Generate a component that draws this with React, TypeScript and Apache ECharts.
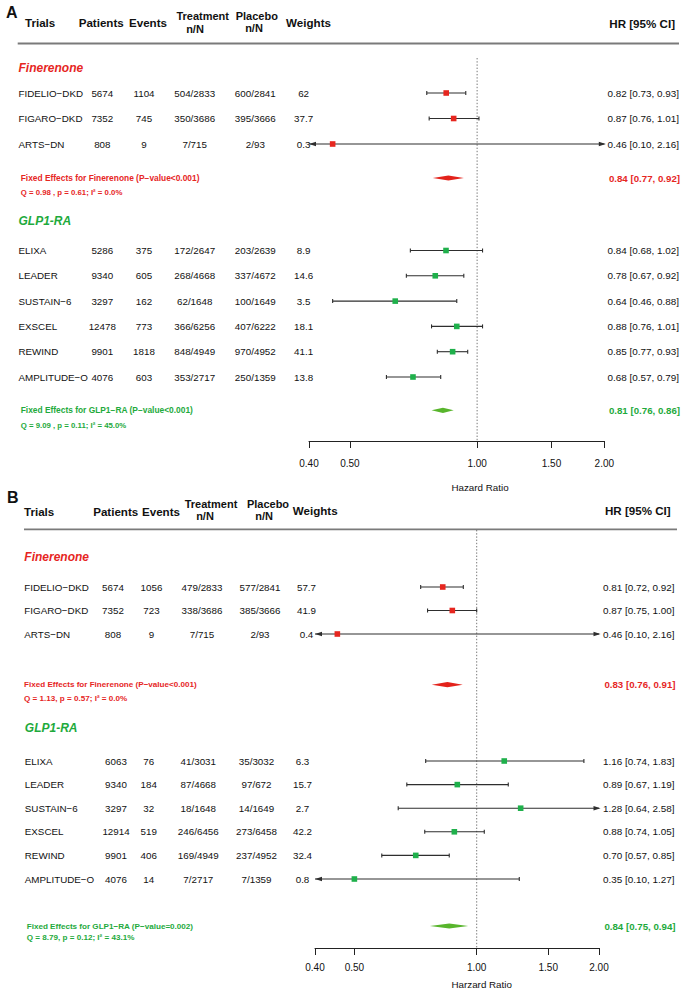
import React, { useEffect, useRef } from "react";
import * as echarts from "echarts";

const FONT = '"Liberation Sans", Arial, Helvetica, sans-serif';
const INK = "#111111";
const WHISKER = "#2e2e2e";
const RED = "#E6261F";
const RED_DIAMOND = "#E3221B";
const GREEN_TXT = "#1EAA3C";
const GREEN_BOX = "#1FB04B";
const GREEN_DIAMOND = "#58B52C";

// ---------- axis ----------
const AXIS_TICKS = [0.4, 0.5, 1.0, 1.5, 2.0];
const AXIS_MIN = 0.4;
const AXIS_MAX = 2.0;
const A_AXIS_NAME = "Hazard Ratio";
const B_AXIS_NAME = "Harzard Ratio";

// ---------- Panel A : Finerenone ----------
const A_FIN_TRIALS = ["FIDELIO−DKD", "FIGARO−DKD", "ARTS−DN"];
const A_FIN_PATIENTS = ["5674", "7352", "808"];
const A_FIN_EVENTS = ["1104", "745", "9"];
const A_FIN_TREATMENT = ["504/2833", "350/3686", "7/715"];
const A_FIN_PLACEBO = ["600/2841", "395/3666", "2/93"];
const A_FIN_WEIGHTS = ["62", "37.7", "0.3"];
const A_FIN_HR_TEXT = ["0.82 [0.73, 0.93]", "0.87 [0.76, 1.01]", "0.46 [0.10, 2.16]"];
const A_FIN_EST = [0.845, 0.88, 0.455];
const A_FIN_LO = [0.76, 0.77, 0.1];
const A_FIN_HI = [0.94, 1.01, 2.16];
const A_FIN_POOLED = [0.785, 0.855, 0.93]; // lower, estimate, upper
const A_FIN_POOLED_TEXT = "0.84 [0.77, 0.92]";
const A_FIN_FIXED_TEXT = "Fixed Effects for Finerenone (P−value<0.001)";
const A_FIN_Q_TEXT = "Q = 0.98 , p = 0.61; I² = 0.0%";

// ---------- Panel A : GLP1-RA ----------
const A_GLP_TRIALS = ["ELIXA", "LEADER", "SUSTAIN−6", "EXSCEL", "REWIND", "AMPLITUDE−O"];
const A_GLP_PATIENTS = ["5286", "9340", "3297", "12478", "9901", "4076"];
const A_GLP_EVENTS = ["375", "605", "162", "773", "1818", "603"];
const A_GLP_TREATMENT = ["172/2647", "268/4668", "62/1648", "366/6256", "848/4949", "353/2717"];
const A_GLP_PLACEBO = ["203/2639", "337/4672", "100/1649", "407/6222", "970/4952", "250/1359"];
const A_GLP_WEIGHTS = ["8.9", "14.6", "3.5", "18.1", "41.1", "13.8"];
const A_GLP_HR_TEXT = [
  "0.84 [0.68, 1.02]",
  "0.78 [0.67, 0.92]",
  "0.64 [0.46, 0.88]",
  "0.88 [0.76, 1.01]",
  "0.85 [0.77, 0.93]",
  "0.68 [0.57, 0.79]",
];
const A_GLP_EST = [0.844, 0.796, 0.64, 0.895, 0.875, 0.705];
const A_GLP_LO = [0.695, 0.68, 0.455, 0.78, 0.805, 0.61];
const A_GLP_HI = [1.03, 0.93, 0.895, 1.03, 0.95, 0.82];
const A_GLP_POOLED = [0.78, 0.83, 0.88];
const A_GLP_POOLED_TEXT = "0.81 [0.76, 0.86]";
const A_GLP_FIXED_TEXT = "Fixed Effects for GLP1−RA (P−value<0.001)";
const A_GLP_Q_TEXT = "Q = 9.09 , p = 0.11; I² = 45.0%";

// ---------- Panel B : Finerenone ----------
const B_FIN_TRIALS = ["FIDELIO−DKD", "FIGARO−DKD", "ARTS−DN"];
const B_FIN_PATIENTS = ["5674", "7352", "808"];
const B_FIN_EVENTS = ["1056", "723", "9"];
const B_FIN_TREATMENT = ["479/2833", "338/3686", "7/715"];
const B_FIN_PLACEBO = ["577/2841", "385/3666", "2/93"];
const B_FIN_WEIGHTS = ["57.7", "41.9", "0.4"];
const B_FIN_HR_TEXT = ["0.81 [0.72, 0.92]", "0.87 [0.75, 1.00]", "0.46 [0.10, 2.16]"];
const B_FIN_EST = [0.825, 0.871, 0.454];
const B_FIN_LO = [0.728, 0.757, 0.1];
const B_FIN_HI = [0.927, 1.0, 2.16];
const B_FIN_POOLED = [0.775, 0.847, 0.924];
const B_FIN_POOLED_TEXT = "0.83 [0.76, 0.91]";
const B_FIN_FIXED_TEXT = "Fixed Effects for Finerenone (P−value<0.001)";
const B_FIN_Q_TEXT = "Q = 1.13, p = 0.57; I² = 0.0%";

// ---------- Panel B : GLP1-RA ----------
const B_GLP_TRIALS = ["ELIXA", "LEADER", "SUSTAIN−6", "EXSCEL", "REWIND", "AMPLITUDE−O"];
const B_GLP_PATIENTS = ["6063", "9340", "3297", "12914", "9901", "4076"];
const B_GLP_EVENTS = ["76", "184", "32", "519", "406", "14"];
const B_GLP_TREATMENT = ["41/3031", "87/4668", "18/1648", "246/6456", "169/4949", "7/2717"];
const B_GLP_PLACEBO = ["35/3032", "97/672", "14/1649", "273/6458", "237/4952", "7/1359"];
const B_GLP_WEIGHTS = ["6.3", "15.7", "2.7", "42.2", "32.4", "0.8"];
const B_GLP_HR_TEXT = [
  "1.16 [0.74, 1.83]",
  "0.89 [0.67, 1.19]",
  "1.28 [0.64, 2.58]",
  "0.88 [0.74, 1.05]",
  "0.70 [0.57, 0.85]",
  "0.35 [0.10, 1.27]",
];
const B_GLP_EST = [1.169, 0.896, 1.283, 0.881, 0.708, 0.5];
const B_GLP_LO = [0.749, 0.673, 0.641, 0.745, 0.584, 0.1];
const B_GLP_HI = [1.836, 1.196, 2.58, 1.044, 0.856, 1.273];
const B_GLP_POOLED = [0.767, 0.856, 0.953];
const B_GLP_POOLED_TEXT = "0.84 [0.75, 0.94]";
const B_GLP_FIXED_TEXT = "Fixed Effects for GLP1−RA (P−value=0.002)";
const B_GLP_Q_TEXT = "Q = 8.79, p = 0.12; I² = 43.1%";

const FIN_TITLE = "Finerenone";
const GLP_TITLE = "GLP1-RA";

// ---------- build group objects ----------
const mkGroup = (title: string, color: string, box: string, diamond: string, d: any) => ({
  title,
  color,
  box,
  diamond,
  ...d,
});

const GROUPS_A = [
  mkGroup(FIN_TITLE, RED, RED, RED_DIAMOND, {
    trials: A_FIN_TRIALS, patients: A_FIN_PATIENTS, events: A_FIN_EVENTS, treat: A_FIN_TREATMENT,
    plac: A_FIN_PLACEBO, weights: A_FIN_WEIGHTS, hrText: A_FIN_HR_TEXT, est: A_FIN_EST, lo: A_FIN_LO,
    hi: A_FIN_HI, pooled: A_FIN_POOLED, pooledText: A_FIN_POOLED_TEXT, fixedText: A_FIN_FIXED_TEXT, qText: A_FIN_Q_TEXT,
  }),
  mkGroup(GLP_TITLE, GREEN_TXT, GREEN_BOX, GREEN_DIAMOND, {
    trials: A_GLP_TRIALS, patients: A_GLP_PATIENTS, events: A_GLP_EVENTS, treat: A_GLP_TREATMENT,
    plac: A_GLP_PLACEBO, weights: A_GLP_WEIGHTS, hrText: A_GLP_HR_TEXT, est: A_GLP_EST, lo: A_GLP_LO,
    hi: A_GLP_HI, pooled: A_GLP_POOLED, pooledText: A_GLP_POOLED_TEXT, fixedText: A_GLP_FIXED_TEXT, qText: A_GLP_Q_TEXT,
  }),
];
const GROUPS_B = [
  mkGroup(FIN_TITLE, RED, RED, RED_DIAMOND, {
    trials: B_FIN_TRIALS, patients: B_FIN_PATIENTS, events: B_FIN_EVENTS, treat: B_FIN_TREATMENT,
    plac: B_FIN_PLACEBO, weights: B_FIN_WEIGHTS, hrText: B_FIN_HR_TEXT, est: B_FIN_EST, lo: B_FIN_LO,
    hi: B_FIN_HI, pooled: B_FIN_POOLED, pooledText: B_FIN_POOLED_TEXT, fixedText: B_FIN_FIXED_TEXT, qText: B_FIN_Q_TEXT,
  }),
  mkGroup(GLP_TITLE, GREEN_TXT, GREEN_BOX, GREEN_DIAMOND, {
    trials: B_GLP_TRIALS, patients: B_GLP_PATIENTS, events: B_GLP_EVENTS, treat: B_GLP_TREATMENT,
    plac: B_GLP_PLACEBO, weights: B_GLP_WEIGHTS, hrText: B_GLP_HR_TEXT, est: B_GLP_EST, lo: B_GLP_LO,
    hi: B_GLP_HI, pooled: B_GLP_POOLED, pooledText: B_GLP_POOLED_TEXT, fixedText: B_GLP_FIXED_TEXT, qText: B_GLP_Q_TEXT,
  }),
];

// ---------- layout (pixel positions) ----------
const COLS_A = { name: 18.5, patients: 102.3, events: 144, treat: 194.7, plac: 255.3, weights: 303.6, hrRight: 679 };
const COLS_B_FIN = { name: 24.3, patients: 113, events: 151.5, treat: 202, plac: 260, weights: 306.5, hrRight: 674.5 };
const COLS_B_GLP = { name: 24.8, patients: 116, events: 148.7, treat: 198.3, plac: 256.5, weights: 302.5, hrRight: 674.5 };

const HEADER_TEXTS = ["Trials", "Patients", "Events", "Treatment", "Placebo", "Weights", "HR [95% CI]"];
const HEADER_SUB = "n/N";

const LAYOUT_A = {
  letter: "A", letterX: 6, letterY: 12,
  axisY: 441, xMinPx: 309, xMaxPx: 604.3, refTop: 58,
  lineY: 43.5, lineX1: 17.7, lineX2: 679,
  labelMargin: 17, axisName: A_AXIS_NAME, axisNameX: 480, axisNameY: 487,
  fixedFont: 8.4, qFont: 7.8,
  headerPos: [
    { x: 25, y: 22, a: "left" },
    { x: 101.2, y: 22, a: "center" },
    { x: 148, y: 22, a: "center" },
    { x: 202.7, y: 16.3, a: "center", x2: 195, y2: 28.6 },
    { x: 256.8, y: 16, a: "center", x2: 254, y2: 28.4 },
    { x: 308.5, y: 22, a: "center" },
    { x: 675, y: 23, a: "right" },
  ],
  groups: [
    { headerY: 68, row0: 93, step: 25.5, sumY: 178, qDy: 14, sumX: 20.7, cols: COLS_A },
    { headerY: 221, row0: 250.5, step: 25.3, sumY: 410.3, qDy: 15, sumX: 20.7, cols: COLS_A },
  ],
};

const LAYOUT_B = {
  letter: "B", letterX: 7, letterY: 497.5,
  axisY: 948, xMinPx: 315, xMaxPx: 599, refTop: 530,
  lineY: 529.3, lineX1: 24, lineX2: 677,
  labelMargin: 14, axisName: B_AXIS_NAME, axisNameX: 481.7, axisNameY: 984,
  fixedFont: 8.1, qFont: 8.1,
  headerPos: [
    { x: 24, y: 511, a: "left" },
    { x: 115.7, y: 511, a: "center" },
    { x: 161, y: 511, a: "center" },
    { x: 211, y: 504, a: "center", x2: 205, y2: 516.4 },
    { x: 268, y: 504, a: "center", x2: 264.2, y2: 516.4 },
    { x: 315.2, y: 510, a: "center" },
    { x: 670.7, y: 510.7, a: "right" },
  ],
  groups: [
    { headerY: 557, row0: 587, step: 23.5, sumY: 684.7, qDy: 13.5, sumX: 24, cols: COLS_B_FIN },
    { headerY: 728, row0: 761, step: 23.6, sumY: 926, qDy: 11, sumX: 26.7, cols: COLS_B_GLP },
  ],
};

const fnt = (size: number, weight = "normal", style = "normal") =>
  `${style} ${weight} ${size}px ${FONT}`;

function textEl(text: string, x: number, y: number, font: string, fill: string, align: string) {
  return {
    type: "text",
    x,
    y,
    silent: true,
    style: {
      text,
      x: 0,
      y: 0,
      font,
      fill,
      align,
      textAlign: align,
      verticalAlign: "middle",
      textVerticalAlign: "middle",
    },
  };
}

function buildRows(groups: any[], layout: any) {
  const rows: any[] = [];
  groups.forEach((g, gi) => {
    const gl = layout.groups[gi];
    rows.push({ kind: "header", y: gl.headerY, g, gl });
    g.trials.forEach((_: string, i: number) =>
      rows.push({ kind: "trial", y: gl.row0 + i * gl.step, i, g, gl })
    );
    rows.push({ kind: "summary", y: gl.sumY, g, gl });
  });
  return rows;
}

function makeRenderer(rows: any[], layout: any) {
  return (params: any, api: any) => {
    const r = rows[params.dataIndex];
    const y = api.coord([0, r.y])[1];
    const X = (v: number) => api.coord([Math.log(v), r.y])[0];
    const g = r.g;
    const c = r.gl.cols;
    const children: any[] = [];
    if (r.kind === "header") {
      children.push(textEl(g.title, c.name, y, fnt(12, "bold", "italic"), g.color, "left"));
    } else if (r.kind === "trial") {
      const i = r.i;
      const rf = fnt(9.8);
      children.push(textEl(g.trials[i], c.name, y, rf, INK, "left"));
      children.push(textEl(g.patients[i], c.patients, y, rf, INK, "center"));
      children.push(textEl(g.events[i], c.events, y, rf, INK, "center"));
      children.push(textEl(g.treat[i], c.treat, y, rf, INK, "center"));
      children.push(textEl(g.plac[i], c.plac, y, rf, INK, "center"));
      children.push(textEl(g.weights[i], c.weights, y, rf, INK, "center"));
      children.push(textEl(g.hrText[i], c.hrRight, y, fnt(9.9), INK, "right"));
      const lo = g.lo[i];
      const hi = g.hi[i];
      const leftClip = lo < AXIS_MIN;
      const rightClip = hi > AXIS_MAX;
      const xl = X(leftClip ? AXIS_MIN : lo);
      const xr = X(rightClip ? AXIS_MAX : hi);
      const ls = { stroke: WHISKER, lineWidth: 1.1 };
      children.push({ type: "line", shape: { x1: xl, y1: y, x2: xr, y2: y }, style: ls });
      if (leftClip) {
        children.push({
          type: "polygon",
          shape: { points: [[xl, y], [xl + 7, y - 2.3], [xl + 7, y + 2.3]] },
          style: { fill: WHISKER },
        });
      } else {
        children.push({ type: "line", shape: { x1: xl, y1: y - 2, x2: xl, y2: y + 2 }, style: ls });
      }
      if (rightClip) {
        children.push({
          type: "polygon",
          shape: { points: [[xr + 1.5, y], [xr - 5.5, y - 2.3], [xr - 5.5, y + 2.3]] },
          style: { fill: WHISKER },
        });
      } else {
        children.push({ type: "line", shape: { x1: xr, y1: y - 2, x2: xr, y2: y + 2 }, style: ls });
      }
      const xe = X(g.est[i]);
      const s = 5.6;
      children.push({
        type: "rect",
        shape: { x: xe - s / 2, y: y - s / 2, width: s, height: s },
        style: { fill: g.box },
      });
    } else {
      children.push(textEl(g.fixedText, r.gl.sumX, y, fnt(layout.fixedFont, "bold"), g.color, "left"));
      children.push(textEl(g.qText, r.gl.sumX, y + r.gl.qDy, fnt(layout.qFont, "bold"), g.color, "left"));
      children.push(textEl(g.pooledText, c.hrRight + 1, y, fnt(9.7, "bold"), g.color, "right"));
      const [lo, est, hi] = g.pooled;
      const h = 2.6;
      children.push({
        type: "polygon",
        shape: { points: [[X(lo), y], [X(est), y - h], [X(hi), y], [X(est), y + h]] },
        style: { fill: g.diamond },
      });
    }
    return { type: "group", children };
  };
}

function panelParts(p: number, groups: any[], layout: any) {
  const rows = buildRows(groups, layout);
  const ticks = AXIS_TICKS.map((v) => Math.log(v));
  const grid = {
    left: layout.xMinPx,
    width: layout.xMaxPx - layout.xMinPx,
    top: 0,
    height: layout.axisY,
    containLabel: false,
    outerBoundsMode: "none",
  };
  const xAxis = {
    type: "value",
    gridIndex: p,
    min: Math.log(AXIS_MIN),
    max: Math.log(AXIS_MAX),
    position: "bottom",
    axisLine: { show: true, onZero: false, lineStyle: { color: "#222", width: 1 } },
    axisTick: { show: true, customValues: ticks, length: 7, inside: false, lineStyle: { color: "#222", width: 1 } },
    axisLabel: {
      show: true,
      customValues: ticks,
      formatter: (v: number) => Math.exp(v).toFixed(2),
      fontSize: 10,
      fontFamily: FONT,
      color: INK,
      margin: layout.labelMargin,
      hideOverlap: false,
    },
    splitLine: { show: false },
  };
  const yAxis = { type: "value", gridIndex: p, min: 0, max: layout.axisY, inverse: true, show: false };
  const rowSeries = {
    type: "custom",
    xAxisIndex: p,
    yAxisIndex: p,
    clip: false,
    silent: true,
    data: rows.map((r) => [r.kind === "trial" ? Math.log(r.g.est[r.i]) : 0, r.y]),
    renderItem: makeRenderer(rows, layout),
  };
  const refSeries = {
    type: "custom",
    xAxisIndex: p,
    yAxisIndex: p,
    clip: false,
    silent: true,
    data: [[Math.log(1), layout.refTop]],
    renderItem: (params: any, api: any) => {
      const a = api.coord([api.value(0), api.value(1)]);
      const b = api.coord([api.value(0), layout.axisY]);
      return {
        type: "line",
        shape: { x1: a[0], y1: a[1], x2: b[0], y2: b[1] },
        style: { stroke: "#555", lineWidth: 0.8, lineDash: [1.4, 1.8] },
      };
    },
  };
  const graphics: any[] = [];
  graphics.push(textEl(layout.letter, layout.letterX, layout.letterY, fnt(16, "bold"), INK, "left"));
  HEADER_TEXTS.forEach((t, k) => {
    const h = layout.headerPos[k];
    if (h.x2 !== undefined) {
      graphics.push(textEl(t, h.x, h.y, fnt(11, "bold"), INK, "center"));
      graphics.push(textEl(HEADER_SUB, h.x2, h.y2, fnt(11, "bold"), INK, "center"));
    } else {
      graphics.push(textEl(t, h.x, h.y, fnt(11.6, "bold"), INK, h.a));
    }
  });
  graphics.push({
    type: "line",
    silent: true,
    shape: { x1: layout.lineX1, y1: layout.lineY, x2: layout.lineX2, y2: layout.lineY },
    style: { stroke: "#7a7a7a", lineWidth: 1.8 },
  });
  graphics.push(textEl(layout.axisName, layout.axisNameX, layout.axisNameY, fnt(9.8), INK, "center"));
  return { grid, xAxis, yAxis, series: [refSeries, rowSeries], graphics };
}

function buildOption() {
  const a = panelParts(0, GROUPS_A, LAYOUT_A);
  const b = panelParts(1, GROUPS_B, LAYOUT_B);
  return {
    animation: false,
    backgroundColor: "#ffffff",
    textStyle: { fontFamily: FONT },
    grid: [a.grid, b.grid],
    xAxis: [a.xAxis, b.xAxis],
    yAxis: [a.yAxis, b.yAxis],
    series: [...a.series, ...b.series],
    graphic: { elements: [...a.graphics, ...b.graphics] },
  };
}

export default function App() {
  const ref = useRef<HTMLDivElement>(null);
  useEffect(() => {
    if (!ref.current) return;
    const chart = echarts.init(ref.current, null, { renderer: "svg" });
    chart.setOption(buildOption() as any);
    return () => chart.dispose();
  }, []);
  return (
    <div
      ref={ref}
      style={{ position: "absolute", left: 0, top: 0, width: 685, height: 995, background: "#ffffff" }}
    />
  );
}
